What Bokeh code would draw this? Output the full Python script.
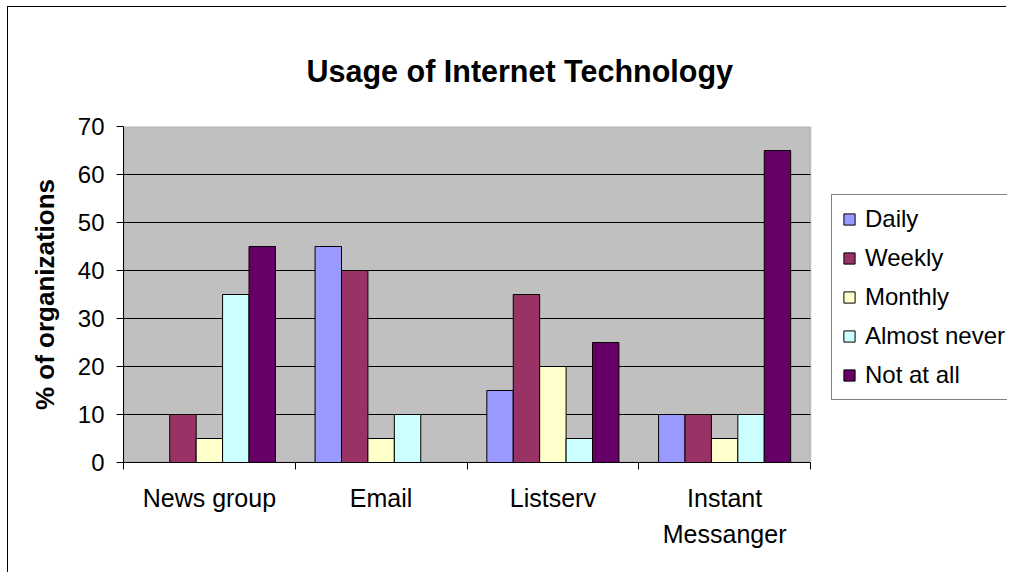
from bokeh.plotting import figure
from bokeh.models import (Range1d, LinearAxis, FixedTicker, Title, BoxAnnotation,
                          Legend, LegendItem, ColumnDataSource)
from bokeh.transform import dodge
from bokeh.embed import file_html
from bokeh.resources import INLINE

# ---------------- data ----------------
categories = ["News group", "Email", "Listserv", "Instant Messanger"]
category_labels = ["News group", "Email", "Listserv", "Instant\nMessanger"]
series = ["Daily", "Weekly", "Monthly", "Almost never", "Not at all"]
daily = [0, 45, 15, 10]
weekly = [10, 40, 35, 10]
monthly = [5, 5, 20, 5]
almost_never = [35, 10, 5, 10]
not_at_all = [45, 0, 25, 65]
colors = ["#9999FF", "#993366", "#FFFFCC", "#CCFFFF", "#660066"]
y_ticks = [0, 10, 20, 30, 40, 50, 60, 70]
y_max = 70
title_text = "Usage of Internet Technology"
y_label = "% of organizations"

n = len(categories)
centers = [i + 0.5 for i in range(n)]
bounds = list(range(n + 1))

values = [daily, weekly, monthly, almost_never, not_at_all]
keys = ["s0", "s1", "s2", "s3", "s4"]
src = ColumnDataSource(dict(cat=categories, xc=centers,
                            **{k: v for k, v in zip(keys, values)}))

FONT = "Liberation Sans"

# layout (pixels)
W, H = 999, 566
LEFT, TOP, FRAME_H = 115, 119, 336
PLOT_W = 687          # width of the grey plot area
FRAME_W = W - LEFT    # frame runs to the right edge so the legend can sit there

p = figure(width=W, height=H, title=None,
           x_range=Range1d(0, n * FRAME_W / PLOT_W), y_range=Range1d(0, y_max),
           x_axis_location=None,
           output_backend="svg", toolbar_location=None,
           min_border_left=LEFT, min_border_right=0,
           min_border_top=TOP, min_border_bottom=H - TOP - FRAME_H,
           background_fill_color="white", border_fill_color="white")

p.styles = {"margin-left": "7px", "margin-top": "6px",
            "border-left": "1px solid #000000", "border-top": "1px solid #000000"}

p.outline_line_color = None

# grey plot area
area = BoxAnnotation(left=0, right=n, bottom=0, top=y_max,
                     fill_color="#C0C0C0", fill_alpha=1,
                     line_color="#808080", line_width=2, level="image")
p.add_layout(area)

# title, lifted away from the plot area by its standoff
main_title = Title(text=title_text, align="left", offset=183, standoff=78,
                   text_font=FONT, text_font_size="30.5px", text_font_style="bold",
                   text_color="black")
p.add_layout(main_title, "above")

# bars
bw = 1.0 / 6.5
renderers = []
for i, (k, c) in enumerate(zip(keys, colors)):
    r = p.vbar(x=dodge("xc", (i - 2) * bw), top=k, width=bw,
               source=src, fill_color=c, line_color="black", line_width=1)
    renderers.append(r)

# y axis
yax = p.yaxis[0]
yax.ticker = FixedTicker(ticks=y_ticks)
yax.major_tick_out = 7
yax.major_tick_in = 0
yax.minor_tick_line_color = None
yax.axis_line_color = "black"
yax.major_tick_line_color = "black"
yax.major_label_text_font = FONT
yax.major_label_text_font_size = "24px"
yax.major_label_text_color = "black"
yax.major_label_standoff = 12
yax.axis_label = y_label
yax.axis_label_text_font = FONT
yax.axis_label_text_font_size = "26px"
yax.axis_label_text_font_style = "bold"
yax.axis_label_text_color = "black"
yax.axis_label_standoff = 15

p.ygrid.ticker = FixedTicker(ticks=y_ticks[1:-1])
p.ygrid.grid_line_color = "black"
p.ygrid.grid_line_width = 1
try:
    p.ygrid.cross_bounds = (0, n)
except Exception:
    pass
p.xgrid.visible = False

# x axes: boundary ticks + category labels
tick_axis = LinearAxis(ticker=FixedTicker(ticks=bounds), bounds=(0, n),
                       major_tick_out=7, major_tick_in=0,
                       major_label_text_font_size="0px", major_label_text_color=None,
                       major_label_standoff=0,
                       minor_tick_line_color=None,
                       axis_line_color="black", major_tick_line_color="black")
p.add_layout(tick_axis, "below")

cat_axis = LinearAxis(ticker=FixedTicker(ticks=centers), bounds=(0, n),
                      axis_line_color=None, major_tick_line_color=None,
                      minor_tick_line_color=None,
                      major_label_text_font=FONT,
                      major_label_text_font_size="25px",
                      major_label_text_color="black",
                      major_label_standoff=8,
                      major_label_text_line_height=1.3,
                      major_label_overrides={c: lab for c, lab in zip(centers, category_labels)})
p.add_layout(cat_axis, "below")

# legend
items = [LegendItem(label=s, renderers=[r]) for s, r in zip(series, renderers)]
legend = Legend(items=items, location=(708, 62),
                glyph_width=14, glyph_height=14, label_standoff=9,
                padding=10, spacing=11, margin=0,
                label_text_font=FONT, label_text_font_size="24px",
                label_text_color="black",
                border_line_color="black", border_line_width=1,
                background_fill_color="white", background_fill_alpha=1)
p.add_layout(legend)

open("out.html", "w").write(file_html(p, INLINE))
